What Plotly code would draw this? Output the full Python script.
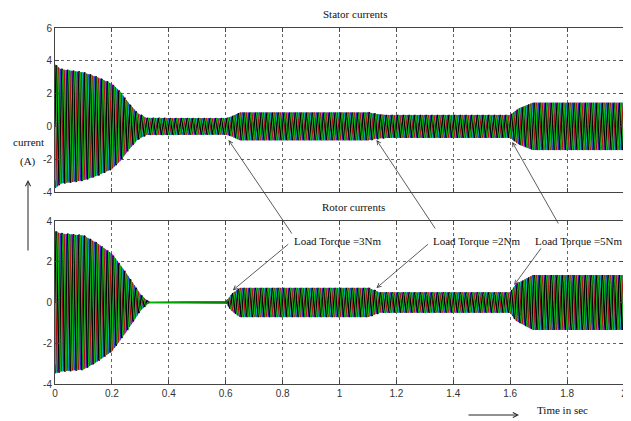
import numpy as np
import plotly.graph_objects as go

# ---------------- data ----------------
# envelope (peak amplitude, A) of the phase currents versus time (s)
stator_env_t = [0.0, 0.02, 0.10, 0.15, 0.20, 0.23, 0.26, 0.29, 0.32, 0.60, 0.62, 0.65, 1.10, 1.13, 1.16, 1.60, 1.63, 1.68, 2.0]
stator_env_a = [3.8, 3.5, 3.3, 3.0, 2.6, 2.1, 1.4, 0.8, 0.52, 0.5, 0.6, 0.85, 0.85, 0.75, 0.7, 0.7, 1.1, 1.45, 1.45]
rotor_env_t = [0.0, 0.02, 0.10, 0.15, 0.20, 0.25, 0.30, 0.33, 0.60, 0.62, 0.65, 1.10, 1.14, 1.60, 1.62, 1.68, 2.0]
rotor_env_a = [3.5, 3.4, 3.3, 2.9, 2.4, 1.45, 0.4, 0.0, 0.0, 0.4, 0.72, 0.72, 0.5, 0.5, 0.9, 1.35, 1.35]
supply_freq_hz = 50
phase_colors = ["#ff00ff", "#2020d0", "#00b8b8", "#c00000", "#000000", "#00c800"]
phase_widths = [1, 1, 1, 1, 1.6, 0.9]
phase_shift_deg = [60, 120, 180, 240, 0, 300]

x_ticks = [0, 0.2, 0.4, 0.6, 0.8, 1.0, 1.2, 1.4, 1.6, 1.8, 2.0]
x_tick_text = ["0", "0.2", "0.4", "0.6", "0.8", "1", "1.2", "1.4", "1.6", "1.8", "2"]
y_top_ticks = [-4, -2, 0, 2, 4, 6]
y_bot_ticks = [-4, -2, 0, 2, 4]

notes = [
    dict(text="Load Torque =3Nm", pos=(0.993, 3.02),
         s_head=(0.61, -0.83), s_tail=(0.836, -6.62),
         r_head=(0.625, 0.6), r_tail=(0.825, 2.92)),
    dict(text="Load Torque =2Nm", pos=(1.484, 3.02),
         s_head=(1.13, -0.83), s_tail=(1.34, -6.32),
         r_head=(1.13, 0.71), r_tail=(1.316, 2.92)),
    dict(text="Load Torque =5Nm", pos=(1.842, 3.02),
         s_head=(1.607, -0.95), s_tail=(1.772, -6.01),
         r_head=(1.614, 0.86), r_tail=(1.712, 2.73)),
]

# ---------------- build figure ----------------
# the page body has an 8px margin, so the figure is drawn 8px smaller and all
# reference pixel positions are shifted by that offset
OFF = 8
W, H = 631 - OFF, 421 - OFF
ML, MR, MT, MB = 55 - OFF, 7, 28 - OFF, 37
PW, PH = W - ML - MR, H - MT - MB
t = np.linspace(0, 2, 100 * 30 + 1)

fig = go.Figure()
for env_t, env_a, xa, ya in [(stator_env_t, stator_env_a, "x", "y"),
                             (rotor_env_t, rotor_env_a, "x2", "y2")]:
    env = np.interp(t, env_t, env_a)
    for col, lw, ph in zip(phase_colors, phase_widths, phase_shift_deg):
        i = env * np.sin(2 * np.pi * supply_freq_hz * t + np.deg2rad(ph))
        fig.add_trace(go.Scatter(x=t, y=i, mode="lines", xaxis=xa, yaxis=ya,
                                 line=dict(color=col, width=lw), showlegend=False,
                                 hoverinfo="skip"))


def px(x):
    return (x - OFF - ML) / PW


def py(y):
    return (H - MB - (y - OFF)) / PH


tick_font = dict(family="Liberation Sans Narrow, Liberation Sans, Arial", size=10, color="#333")
ax_common = dict(showline=True, mirror="ticks", linecolor="#444", linewidth=1,
                 ticks="inside", ticklen=4, tickcolor="#444",
                 showgrid=True, gridcolor="#666", griddash="dot", gridwidth=1,
                 zeroline=False, tickfont=tick_font, automargin=False)

fig.update_layout(
    width=W, height=H, margin=dict(l=ML, r=MR, t=MT, b=MB, autoexpand=False),
    paper_bgcolor="white", plot_bgcolor="white", showlegend=False,
    xaxis=dict(domain=[0, 1], range=[0, 2], anchor="y",
               tickvals=x_ticks, showticklabels=False, **ax_common),
    yaxis=dict(domain=[py(192), 1], range=[-4, 6], anchor="x",
               tickvals=y_top_ticks, ticktext=[str(v) for v in y_top_ticks],
               **ax_common),
    xaxis2=dict(domain=[0, 1], range=[0, 2], anchor="y2",
                tickvals=x_ticks, ticktext=x_tick_text, **ax_common),
    yaxis2=dict(domain=[0, py(221)], range=[-4, 4], anchor="x2",
                tickvals=y_bot_ticks, ticktext=[str(v) for v in y_bot_ticks],
                **ax_common),
)

serif = dict(family="Liberation Serif, Times New Roman, serif", size=11, color="#111")
C = dict(xanchor="center", yanchor="middle", showarrow=False, font=serif,
         xref="paper", yref="paper")
ann = []
ann.append(dict(text="Stator currents", x=px(355), y=py(14), **C))
ann.append(dict(text="Rotor currents", x=px(353), y=py(207), **C))
ann.append(dict(text="current", x=px(28), y=py(142), **C))
ann.append(dict(text="(A)", x=px(28), y=py(161), **C))
ann.append(dict(text="", x=px(28), y=py(180), xref="paper", yref="paper",
                showarrow=True, ax=0, ay=72, arrowhead=5, arrowsize=1, arrowwidth=1,
                arrowcolor="#222", standoff=0))
ann.append(dict(text="Time in sec", x=px(562), y=py(410), **C))
ann.append(dict(text="", x=px(519), y=py(415), xref="paper", yref="paper",
                showarrow=True, ax=-52, ay=0, arrowhead=5, arrowsize=1, arrowwidth=1,
                arrowcolor="#222", standoff=0))

for n in notes:
    ann.append(dict(text=n["text"], x=n["pos"][0], y=n["pos"][1], xref="x2", yref="y2",
                    xanchor="center", yanchor="middle", showarrow=False, font=serif))
    ann.append(dict(text="", x=n["s_head"][0], y=n["s_head"][1], xref="x", yref="y",
                    ax=n["s_tail"][0], ay=n["s_tail"][1], axref="x", ayref="y",
                    showarrow=True, arrowhead=5, arrowsize=1, arrowwidth=0.8,
                    arrowcolor="#333", standoff=0))
    ann.append(dict(text="", x=n["r_head"][0], y=n["r_head"][1], xref="x2", yref="y2",
                    ax=n["r_tail"][0], ay=n["r_tail"][1], axref="x2", ayref="y2",
                    showarrow=True, arrowhead=5, arrowsize=1, arrowwidth=0.8,
                    arrowcolor="#333", standoff=0))

fig.update_layout(annotations=ann)
fig.write_html("out.html")
